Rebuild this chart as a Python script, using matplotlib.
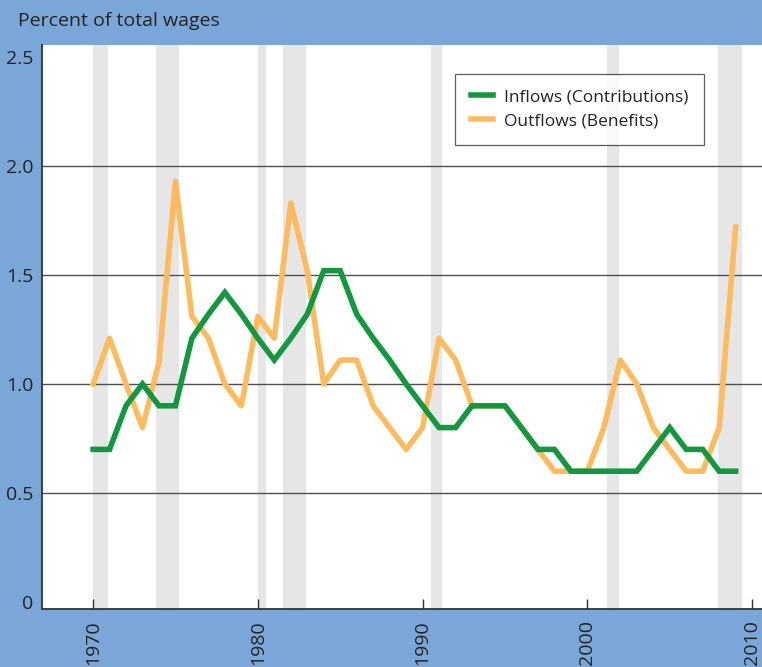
import numpy as np
import matplotlib.pyplot as plt

plt.rcParams['font.family'] = ['Open Sans', 'DejaVu Sans']

# data
years = np.arange(1970, 2010)
inflows = [0.7, 0.7, 0.9, 1.0, 0.9, 0.9, 1.21, 1.32, 1.42, 1.32,
           1.21, 1.11, 1.21, 1.32, 1.52, 1.52, 1.32, 1.21, 1.11, 1.0,
           0.9, 0.8, 0.8, 0.9, 0.9, 0.9, 0.8, 0.7, 0.7, 0.6,
           0.6, 0.6, 0.6, 0.6, 0.7, 0.8, 0.7, 0.7, 0.6, 0.6]
outflows = [1.0, 1.21, 1.0, 0.8, 1.1, 1.93, 1.31, 1.21, 1.0, 0.9,
            1.31, 1.21, 1.83, 1.52, 1.0, 1.11, 1.11, 0.9, 0.8, 0.7,
            0.8, 1.21, 1.11, 0.9, 0.9, 0.9, 0.8, 0.7, 0.6, 0.6,
            0.6, 0.8, 1.11, 1.0, 0.8, 0.7, 0.6, 0.6, 0.8, 1.72]
recessions = [(1970.0, 1970.9), (1973.8, 1975.2), (1980.0, 1980.5),
              (1981.5, 1982.9), (1990.5, 1991.2), (2001.2, 2001.9),
              (2007.9, 2009.4)]

bg = '#7ba7d8'
fig = plt.figure(figsize=(7.62, 6.67), dpi=100, facecolor=bg)
ax = fig.add_axes([0.0551, 0.087, 0.9449, 0.8455])
ax.set_facecolor('white')

for a, b in recessions:
    ax.axvspan(a, b, color='#e6e6e6', lw=0, zorder=0)

for y in [0.5, 1.0, 1.5, 2.0]:
    ax.axhline(y, color='#505050', lw=1, zorder=1)

ax.plot(years, inflows, color='#13973f', lw=4, solid_joinstyle='miter',
        label='Inflows (Contributions)', zorder=3)
ax.plot(years, outflows, color='#fdbb5f', lw=4,
        label='Outflows (Benefits)', zorder=2)

ax.set_xlim(1966.9, 2010.6)
ax.set_ylim(-0.032, 2.555)
ax.set_xticks([1970, 1980, 1990, 2000, 2010])
ax.set_xticklabels(['1970', '1980', '1990', '2000', '2010'], rotation=90,
                   fontsize=14, color='#222222')
ax.set_yticks([0, 0.5, 1.0, 1.5, 2.0, 2.5])
ax.set_yticklabels(['0', '0.5', '1.0', '1.5', '2.0', '2.5'], fontsize=14,
                   color='#222222')
ax.tick_params(axis='x', direction='in', length=7, width=1, color='#333333', pad=8)
ax.tick_params(axis='y', length=0, pad=6)

for s in ['top', 'right']:
    ax.spines[s].set_visible(False)
for s in ['left', 'bottom']:
    ax.spines[s].set_color('#333333')
    ax.spines[s].set_linewidth(1.3)
    ax.spines[s].set_zorder(4)

leg = ax.legend(loc='upper left', bbox_to_anchor=(0.574, 0.949), fontsize=12.5,
                frameon=True, fancybox=False, handlelength=1.3, handletextpad=0.6,
                borderpad=0.9, labelspacing=0.45, borderaxespad=0)
leg.get_frame().set_edgecolor('#333333')
leg.get_frame().set_linewidth(0.9)
for t in leg.get_texts():
    t.set_color('#222222')

fig.text(0.024, 0.968, 'Percent of total wages', fontsize=14, color='#222222',
         va='center', ha='left')

fig.savefig('out.png', dpi=100, facecolor=bg)
